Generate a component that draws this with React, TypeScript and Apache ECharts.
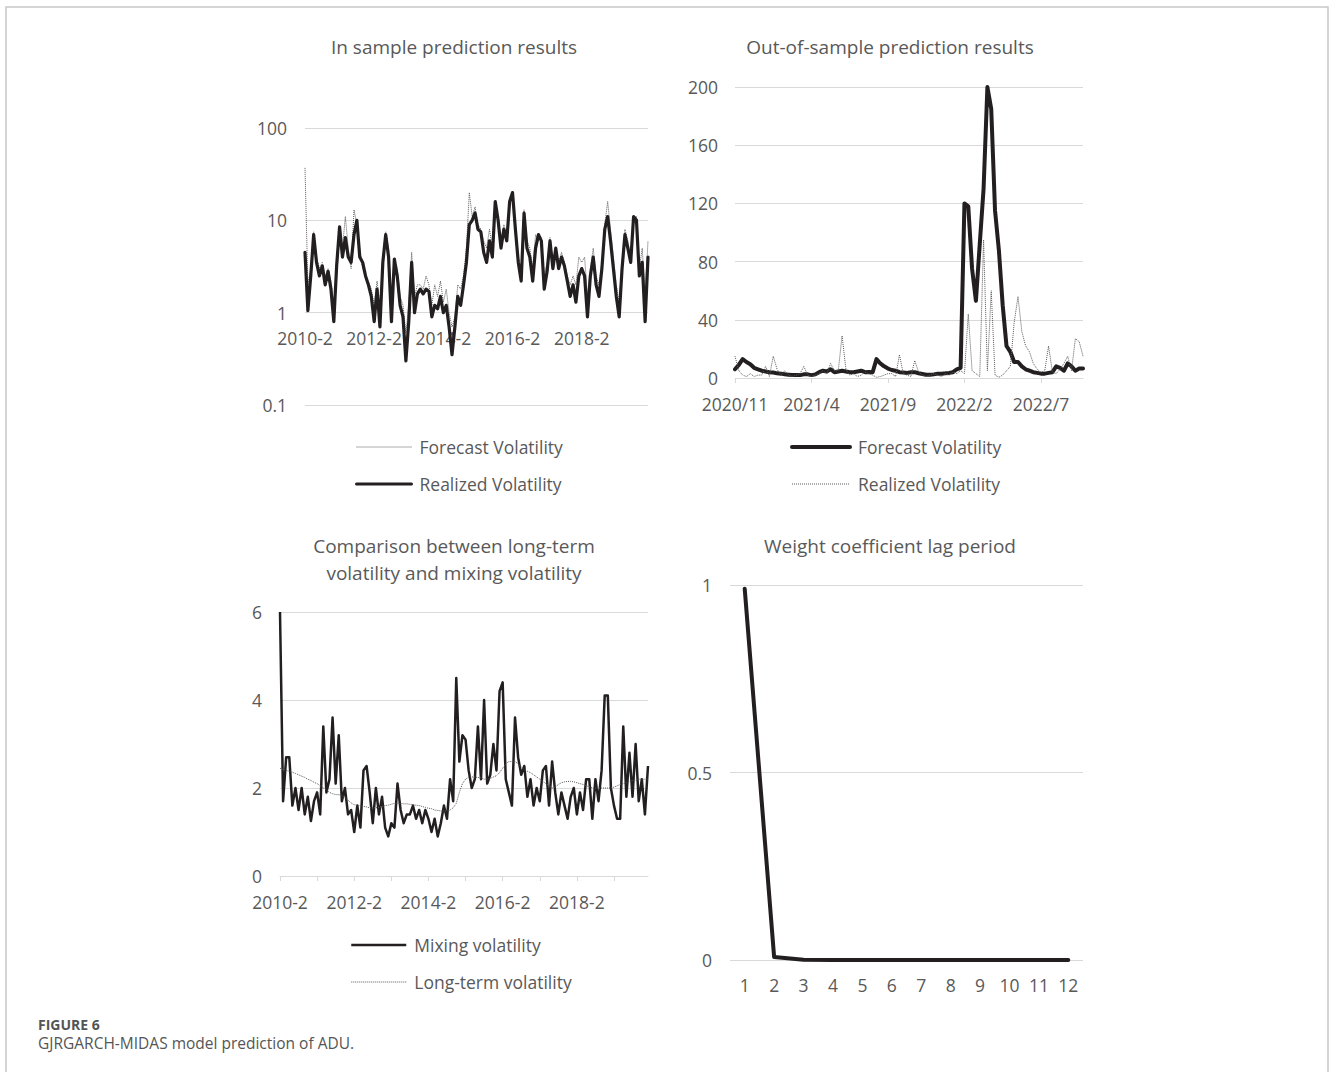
import React, { useEffect, useRef } from "react";
import * as echarts from "echarts";

// ---------- Panel 1: in-sample (monthly, 2010-2 .. 2020-1) ----------
const inSampleForecast = [
  37, 2, 3, 7.5, 4, 3, 3.5, 2.5, 3, 2.2, 1.2, 2.5, 7, 5, 11, 5, 3, 13, 9, 5,
  3, 2.5, 2.2, 1.8, 1.2, 2.2, 1.2, 3, 7.5, 5, 1.2, 3.5, 3, 1.5, 1.2, 0.6, 1.2, 4.5, 1.5, 2,
  2, 1.8, 2.5, 2, 1.2, 2, 1.5, 2.2, 1.3, 1.8, 1, 0.7, 0.9, 2, 1.8, 2.5, 5, 20, 11, 14,
  9, 8, 6, 5, 8, 5, 14, 11, 6, 9, 7, 15, 18, 9, 4, 3, 13, 6, 5, 3,
  7, 6, 6.5, 2.5, 3.5, 6.5, 3.5, 5, 3.5, 4.5, 3.5, 2.5, 2, 2.5, 2, 4, 3.5, 4, 1.5, 3,
  5, 2.5, 2, 3.5, 9, 16, 8, 4, 2, 1.3, 3.5, 8, 6, 4, 9, 11, 3, 5, 1.5, 6,
];
const inSampleRealized = [
  4.5, 1.05, 2.5, 7, 3.5, 2.5, 3.2, 2, 2.8, 1.8, 0.8, 3.3, 8.5, 4, 6.5, 4, 3.5, 7, 10, 4,
  3.5, 2.5, 2, 1.5, 0.8, 1.8, 0.7, 3.5, 7, 4, 0.8, 3.8, 2.5, 1.2, 0.9, 0.3, 0.8, 3.5, 1, 1.6,
  1.8, 1.6, 1.8, 1.7, 0.9, 1.2, 1.1, 1.5, 1, 1.2, 0.7, 0.35, 0.7, 1.5, 1.2, 2, 3.5, 9, 10, 12,
  8, 7.5, 4.5, 3.5, 6, 4, 16, 10, 5, 8, 6, 16, 20, 8, 3.5, 2.2, 12, 5, 4, 2.2,
  5, 7, 6, 1.8, 2.8, 6, 3, 5, 3, 4, 3.2, 2.2, 1.5, 2, 1.3, 2.5, 3, 2.5, 0.9, 2.5,
  4, 2, 1.5, 3, 8, 11, 6, 3, 1.5, 0.9, 3, 7, 5, 3.5, 11, 10, 2.5, 3.5, 0.8, 4,
];

// ---------- Panel 3: mixing vs long-term (monthly, 2010-2 .. 2020-1) ----------
const mixingVol = [
  6, 1.7, 2.7, 2.7, 1.6, 2, 1.5, 2, 1.4, 1.8, 1.25, 1.7, 1.9, 1.4, 3.4, 1.9, 2.2, 3.6, 2.1, 3.2,
  1.7, 2, 1.4, 1.5, 1, 1.6, 1.1, 2.4, 2.5, 1.9, 1.2, 2, 1.4, 1.8, 1.1, 0.9, 1.2, 1.1, 2.1, 1.5,
  1.2, 1.4, 1.4, 1.6, 1.3, 1.5, 1.2, 1.5, 1.3, 1, 1.3, 0.9, 1.2, 1.6, 1.3, 2.2, 1.7, 4.5, 2.6, 3.2,
  3.1, 2.4, 2, 2.2, 3.4, 2.2, 4, 2.1, 2.3, 3, 2.4, 4.2, 4.4, 2.2, 1.9, 1.6, 3.6, 2.7, 2.3, 2.5,
  1.8, 2.2, 1.6, 2, 1.7, 2.4, 2.5, 1.6, 2.6, 1.9, 1.4, 1.9, 1.6, 1.3, 1.8, 2, 1.4, 1.9, 1.5, 2.2,
  2.2, 1.3, 2.2, 1.7, 2.4, 4.1, 4.1, 2, 1.6, 1.3, 1.3, 3.4, 1.8, 2.8, 1.8, 3, 1.7, 2.2, 1.4, 2.5,
];
const longTermVol = [
  2.45, 2.42, 2.4, 2.38, 2.36, 2.33, 2.3, 2.27, 2.24, 2.2, 2.17, 2.13, 2.1, 2.05, 2.0, 1.96, 1.9, 1.87, 1.85, 1.85,
  1.82, 1.78, 1.72, 1.66, 1.62, 1.6, 1.6, 1.58, 1.57, 1.55, 1.55, 1.55, 1.56, 1.58, 1.6, 1.61, 1.63, 1.65, 1.65, 1.65,
  1.64, 1.64, 1.63, 1.62, 1.61, 1.6, 1.58, 1.56, 1.54, 1.53, 1.5, 1.49, 1.48, 1.48, 1.48, 1.5, 1.55, 1.65, 1.9, 2.1,
  2.2, 2.25, 2.25, 2.25, 2.24, 2.23, 2.2, 2.2, 2.22, 2.25, 2.28, 2.35, 2.45, 2.55, 2.6, 2.6, 2.6, 2.55, 2.48, 2.42,
  2.38, 2.35, 2.3, 2.25, 2.2, 2.15, 2.1, 2.05, 2.0, 2.02, 2.08, 2.12, 2.14, 2.15, 2.15, 2.14, 2.12, 2.1, 2.08, 2.05,
  2.03, 2.0, 2.0, 2.0, 2.0, 2.0, 2.0, 2.0, 2.02, 2.05, 2.08, 2.1, 2.12, 2.15, 2.17, 2.18, 2.2, 2.2, 2.2, 2.2,
];

// ---------- Panel 2: out-of-sample (4 points per month, 2020/11 .. 2022/9) ----------
const oosMonths = [
  "2020/11", "2020/12", "2021/1", "2021/2", "2021/3", "2021/4", "2021/5", "2021/6",
  "2021/7", "2021/8", "2021/9", "2021/10", "2021/11", "2021/12", "2022/1", "2022/2",
  "2022/3", "2022/4", "2022/5", "2022/6", "2022/7", "2022/8", "2022/9",
];
const oosForecast = [
  6, 9, 13, 11, 9.5, 7, 6, 5, 4.5, 4, 3.8, 3.2, 3, 2.6, 2.3, 2, 2, 2, 2.5, 2.5,
  2, 2.5, 4, 5, 4.5, 6, 4, 4.5, 5, 4.5, 4, 4, 4.5, 5, 4, 4.2, 4, 13, 10, 8,
  6.5, 5.5, 5, 4, 3.8, 3.5, 4, 4, 3.3, 2.8, 2.2, 2.2, 2.5, 3, 3, 3.2, 3.5, 4, 6, 7,
  120, 118, 75, 53, 92, 130, 200, 185, 115, 88, 50, 22, 18, 11, 11, 8, 6, 5, 4, 3.5,
  3, 3, 3.5, 4, 8, 7, 5, 10, 8, 5, 6.5, 6.5,
];
const oosRealized = [
  15, 5, 2, 1, 3, 1, 2, 2, 8, 1, 15, 6, 2, 5, 2, 1, 2, 3, 8, 2,
  1, 2, 3, 5, 3, 10, 5, 5, 29, 6, 2, 3, 1, 2, 4, 3, 2, 0.5, 1, 2,
  3, 3, 1, 16, 3, 2, 1, 12, 4, 2, 1, 2, 3, 2, 1, 3, 2, 4, 3, 5,
  3, 44, 5, 3, 1, 95, 5, 60, 2, 0.5, 2, 5, 8, 38, 56, 32, 22, 18, 10, 6,
  4, 5, 22, 4, 3, 6, 10, 15, 5, 27, 25, 15,
];

// ---------- Panel 4: weight coefficient ----------
const lagPeriods = ["1", "2", "3", "4", "5", "6", "7", "8", "9", "10", "11", "12"];
const lagWeights = [0.99, 0.008, 0.0005, 0, 0, 0, 0, 0, 0, 0, 0, 0];

// monthly category labels 2010-2 ... 2020-1
const monthlyLabels: string[] = [];
for (let k = 0; k < 120; k++) {
  const t = 1 + k;
  const y = 2010 + Math.floor(t / 12);
  const m = (t % 12) + 1;
  monthlyLabels.push(`${y}-${m}`);
}
const oosLabels: string[] = [];
oosMonths.forEach((m) => {
  for (let w = 1; w <= 4; w++) oosLabels.push(`${m} w${w}`);
});

const FONT = "'Open Sans'";
const TXT = "#595959";
const GRIDC = "#d9d9d9";
const INK = "#231f20";
const DOT = "#595959";

export default function App() {
  const ref = useRef<HTMLDivElement>(null);
  useEffect(() => {
    if (!ref.current) return;
    const chart = echarts.init(ref.current, undefined, { renderer: "svg" });
    const label = { color: TXT, fontFamily: "Open Sans", fontSize: 17.5 };
    const legText = { color: TXT, fontFamily: "Open Sans", fontSize: 17.5, padding: [0, 0, 0, 3] };
    const splitLine = { show: true, lineStyle: { color: GRIDC, width: 1 } };
    const legendBase = {
      orient: "vertical",
      itemHeight: 14,
      itemGap: 19,
      padding: 0,
      selectedMode: false,
      textStyle: legText,
      itemStyle: { opacity: 0 },
    };
    const dottedLeg = { color: DOT, width: 1, type: "dotted" };
    const option: any = {
      animation: false,
      backgroundColor: "#ffffff",
      textStyle: { fontFamily: "Open Sans" },
      grid: [
        { left: 305, right: 682, top: 128, bottom: 670 },
        { left: 735, right: 247, top: 87, bottom: 697 },
        { left: 280, right: 682, top: 612, bottom: 199 },
        { left: 730, right: 247, top: 585, bottom: 115 },
      ],
      xAxis: [
        {
          gridIndex: 0,
          type: "category",
          data: monthlyLabels,
          boundaryGap: false,
          offset: -93,
          axisLine: { show: false },
          axisTick: { show: false },
          axisLabel: { ...label, interval: 23, margin: 17 },
          splitLine: { show: false },
        },
        {
          gridIndex: 1,
          type: "category",
          data: oosLabels,
          boundaryGap: false,
          axisLine: { show: true, lineStyle: { color: GRIDC, width: 1 } },
          axisTick: { show: true, interval: 19, length: 5, lineStyle: { color: GRIDC } },
          axisLabel: {
            ...label,
            interval: 19,
            margin: 17,
            formatter: (v: string) => v.split(" ")[0],
          },
          splitLine: { show: false },
        },
        {
          gridIndex: 2,
          type: "category",
          data: monthlyLabels,
          boundaryGap: false,
          axisLine: { show: true, lineStyle: { color: GRIDC, width: 1 } },
          axisTick: { show: true, interval: 11, length: 5, lineStyle: { color: GRIDC } },
          axisLabel: { ...label, interval: 23, margin: 17 },
          splitLine: { show: false },
        },
        {
          gridIndex: 3,
          type: "category",
          data: lagPeriods,
          boundaryGap: true,
          axisLine: { show: false },
          axisTick: { show: false },
          axisLabel: { ...label, margin: 16 },
          splitLine: { show: false },
        },
      ],
      yAxis: [
        {
          gridIndex: 0,
          type: "log",
          logBase: 10,
          min: 0.1,
          max: 100,
          axisLine: { show: false },
          axisTick: { show: false },
          axisLabel: { ...label, margin: 18 },
          splitLine,
        },
        {
          gridIndex: 1,
          type: "value",
          min: 0,
          max: 200,
          interval: 40,
          axisLine: { show: false },
          axisTick: { show: false },
          axisLabel: { ...label, margin: 17 },
          splitLine,
        },
        {
          gridIndex: 2,
          type: "value",
          min: 0,
          max: 6,
          interval: 2,
          axisLine: { show: false },
          axisTick: { show: false },
          axisLabel: { ...label, margin: 18 },
          splitLine,
        },
        {
          gridIndex: 3,
          type: "value",
          min: 0,
          max: 1,
          interval: 0.5,
          axisLine: { show: false },
          axisTick: { show: false },
          axisLabel: { ...label, margin: 18 },
          splitLine,
        },
      ],
      legend: [
        {
          ...legendBase,
          left: 355,
          top: 438,
          itemWidth: 55,
          data: [
            { name: "Forecast Volatility", lineStyle: dottedLeg },
            { name: "Realized Volatility", lineStyle: { color: INK, width: 3, type: "solid" } },
          ],
        },
        {
          ...legendBase,
          left: 790,
          top: 438,
          itemWidth: 58,
          formatter: (n: string) => n.replace(" (OOS)", ""),
          data: [
            { name: "Forecast Volatility (OOS)", lineStyle: { color: INK, width: 4, type: "solid", cap: "round" } },
            { name: "Realized Volatility (OOS)", lineStyle: dottedLeg },
          ],
        },
        {
          ...legendBase,
          left: 350,
          top: 936,
          itemWidth: 55,
          data: [
            { name: "Mixing volatility", lineStyle: { color: INK, width: 2.5, type: "solid" } },
            { name: "Long-term volatility", lineStyle: dottedLeg },
          ],
        },
      ],
      series: [
        {
          name: "Forecast Volatility",
          type: "line",
          xAxisIndex: 0,
          yAxisIndex: 0,
          data: inSampleForecast,
          symbol: "none",
          lineStyle: { color: DOT, width: 1, type: "dotted" },
          itemStyle: { color: DOT },
        },
        {
          name: "Realized Volatility",
          type: "line",
          xAxisIndex: 0,
          yAxisIndex: 0,
          data: inSampleRealized,
          symbol: "none",
          lineStyle: { color: INK, width: 3.2, join: "round", cap: "round" },
          itemStyle: { color: INK },
        },
        {
          name: "Forecast Volatility (OOS)",
          type: "line",
          xAxisIndex: 1,
          yAxisIndex: 1,
          data: oosForecast,
          symbol: "none",
          lineStyle: { color: INK, width: 4, join: "round", cap: "round" },
          itemStyle: { color: INK },
        },
        {
          name: "Realized Volatility (OOS)",
          type: "line",
          xAxisIndex: 1,
          yAxisIndex: 1,
          data: oosRealized,
          symbol: "none",
          lineStyle: { color: DOT, width: 1, type: "dotted" },
          itemStyle: { color: DOT },
        },
        {
          name: "Mixing volatility",
          type: "line",
          xAxisIndex: 2,
          yAxisIndex: 2,
          data: mixingVol,
          symbol: "none",
          lineStyle: { color: INK, width: 2.5, join: "round" },
          itemStyle: { color: INK },
        },
        {
          name: "Long-term volatility",
          type: "line",
          xAxisIndex: 2,
          yAxisIndex: 2,
          data: longTermVol,
          symbol: "none",
          lineStyle: { color: DOT, width: 1, type: "dotted" },
          itemStyle: { color: DOT },
        },
        {
          name: "Weight coefficient",
          type: "line",
          xAxisIndex: 3,
          yAxisIndex: 3,
          data: lagWeights,
          symbol: "none",
          lineStyle: { color: INK, width: 4, join: "round", cap: "round" },
          itemStyle: { color: INK },
        },
      ],
      graphic: [
        {
          type: "polyline",
          shape: { points: [[6, 1072], [6, 7], [1328, 7], [1328, 1072]] },
          style: { stroke: "#c8c8c8", lineWidth: 1.5, fill: "none" },
          silent: true,
        },
        {
          type: "text",
          x: 454,
          y: 47,
          style: { text: "In sample prediction results", fill: TXT, font: `19px ${FONT}`, textAlign: "center", textVerticalAlign: "middle" },
        },
        {
          type: "text",
          x: 890,
          y: 47,
          style: { text: "Out-of-sample prediction results", fill: TXT, font: `19px ${FONT}`, textAlign: "center", textVerticalAlign: "middle" },
        },
        {
          type: "text",
          x: 454,
          y: 546,
          style: { text: "Comparison between long-term", fill: TXT, font: `19px ${FONT}`, textAlign: "center", textVerticalAlign: "middle" },
        },
        {
          type: "text",
          x: 454,
          y: 573,
          style: { text: "volatility and mixing volatility", fill: TXT, font: `19px ${FONT}`, textAlign: "center", textVerticalAlign: "middle" },
        },
        {
          type: "text",
          x: 890,
          y: 546,
          style: { text: "Weight coefficient lag period", fill: TXT, font: `19px ${FONT}`, textAlign: "center", textVerticalAlign: "middle" },
        },
        {
          type: "text",
          x: 38,
          y: 1024,
          style: { text: "FIGURE 6", fill: "#555555", font: `bold 14px ${FONT}`, textAlign: "left", textVerticalAlign: "middle" },
        },
        {
          type: "text",
          x: 38,
          y: 1043,
          style: { text: "GJRGARCH-MIDAS model prediction of ADU.", fill: "#555555", font: `15.5px ${FONT}`, textAlign: "left", textVerticalAlign: "middle" },
        },
      ],
    };
    chart.setOption(option);
    return () => chart.dispose();
  }, []);
  return (
    <div
      ref={ref}
      style={{ position: "absolute", left: 0, top: 0, width: 1330, height: 1075 }}
    />
  );
}
